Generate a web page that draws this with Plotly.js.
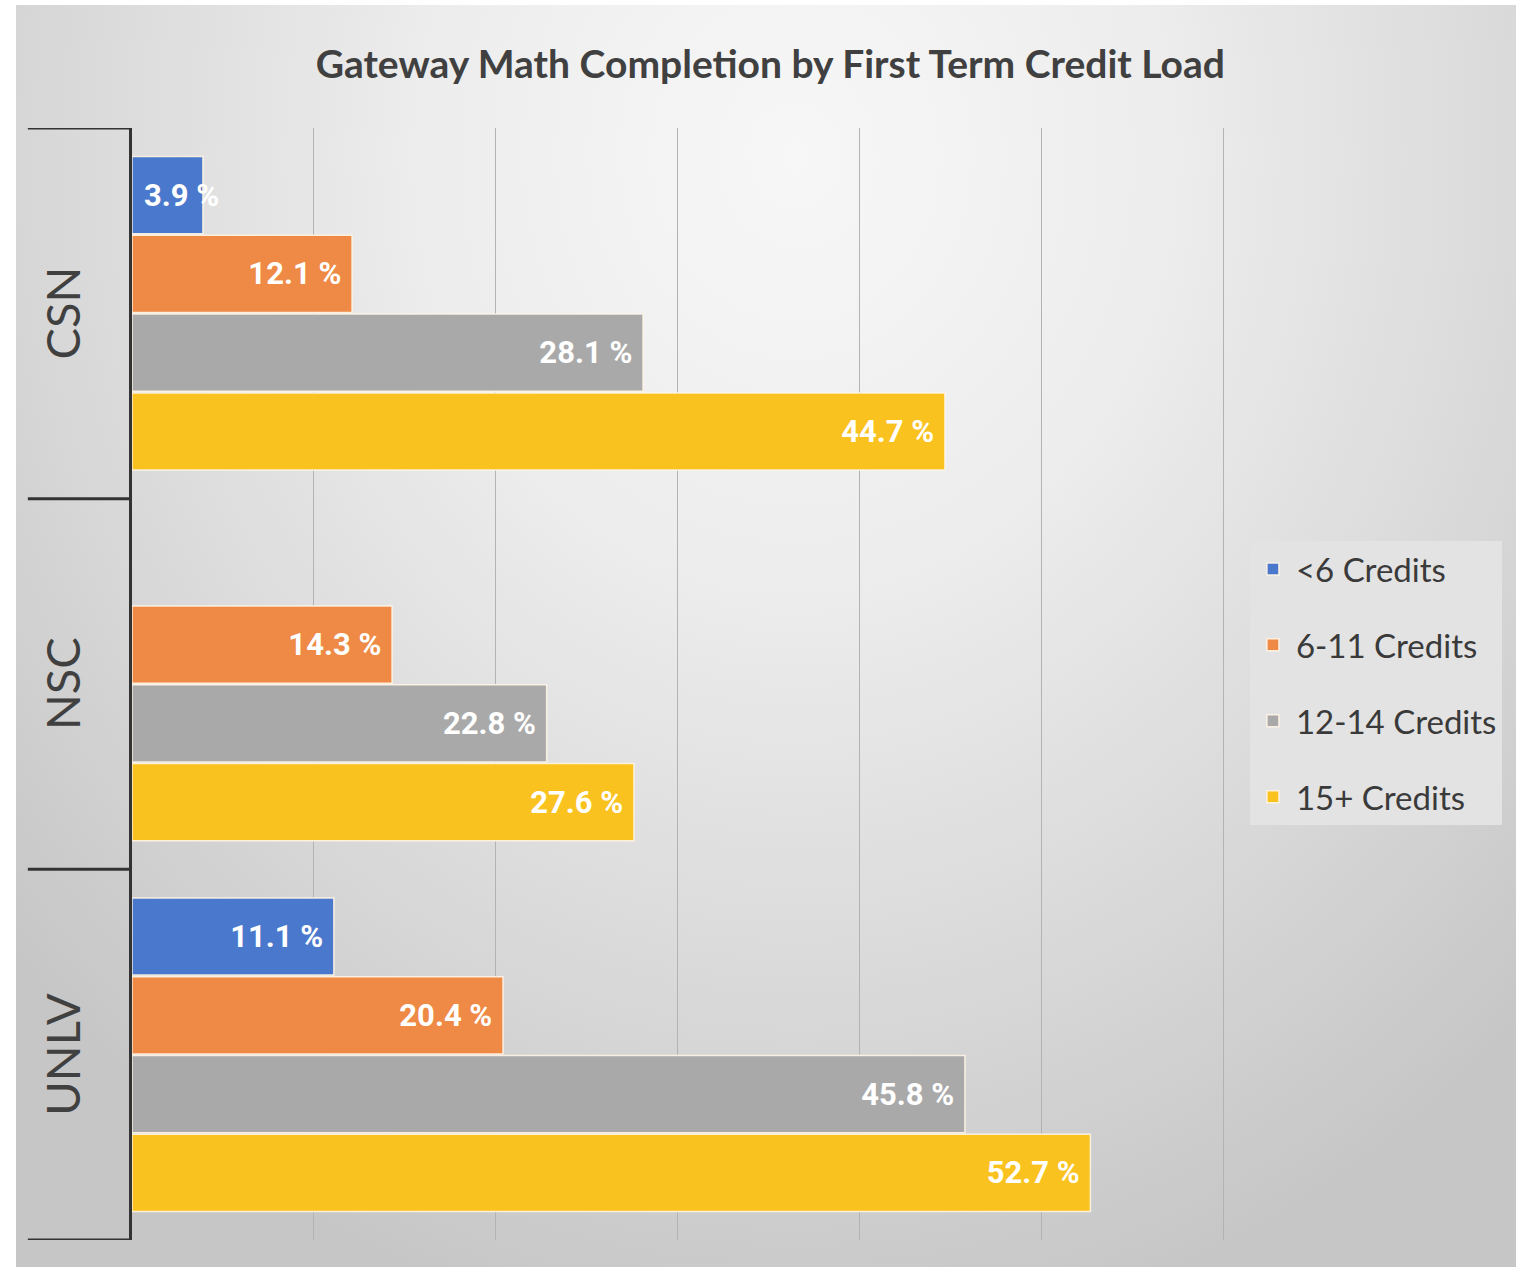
<!DOCTYPE html>
<html>
<head>
<meta charset="utf-8">
<script src="https://cdn.plot.ly/plotly-3.0.1.min.js"></script>
<style>
  html, body { margin: 0; padding: 0; background: #ffffff; }
  #frame {
    position: absolute; left: 16px; top: 5px; width: 1500px; height: 1262px;
    background: radial-gradient(ellipse 70% 95% at 52% 12%, #f7f7f7 0%, #ededed 35%, #dadada 68%, #c6c6c6 100%);
  }
  #chart { position: absolute; left: 0; top: 0; width: 1516px; height: 1271px; }
</style>
</head>
<body>
<div id="frame"></div>
<div id="chart"></div>
<script>
// ---- data ----
const categories = ["CSN", "NSC", "UNLV"];
const seriesNames = ["<6 Credits", "6-11 Credits", "12-14 Credits", "15+ Credits"];
const lt6Credits   = [3.9, null, 11.1];
const c6to11       = [12.1, 14.3, 20.4];
const c12to14      = [28.1, 22.8, 45.8];
const c15plus      = [44.7, 27.6, 52.7];
const chartTitle = "Gateway Math Completion by First Term Credit Load";

// ---- styles ----
const seriesValues = [lt6Credits, c6to11, c12to14, c15plus];
const colors = ["#4a78cc", "#ee8a45", "#a9a9a9", "#f9c21e"];
const labelFont = { family: "Roboto, Liberation Sans, sans-serif", size: 31, color: "#ffffff", weight: 700 };

const W = 1516, H = 1271;
const margin = { l: 132, r: 291, t: 128, b: 31, pad: 0 };
const xMax = 60.1;
const bargap = 0.15;
const pxPerUnit = (W - margin.l - margin.r) / xMax;
const minLabelPx = 85;   // a label narrower than this bar length does not fit inside
const fmt = v => v.toFixed(1) + " %";

const traces = seriesNames.map((name, i) => ({
  type: "bar",
  orientation: "h",
  name: name,
  legendgroup: "g" + i,
  y: categories,
  x: seriesValues[i],
  marker: { color: colors[i], line: { color: "rgba(255,245,230,0.9)", width: 1.5 } },
  texttemplate: "%{x:.1f} %\u00a0",
  textposition: seriesValues[i].map(v => (v !== null && v * pxPerUnit < minLabelPx) ? "none" : "inside"),
  insidetextanchor: "end",
  textangle: 0,
  constraintext: "none",
  textfont: labelFont,
  hoverinfo: "skip"
}));

// labels that do not fit inside their bar start at the bar base (as in the source)
const nSeries = seriesNames.length;
const slot = (1 - bargap) / nSeries;
const overflowLabels = [];
seriesValues.forEach((vals, i) => {
  vals.forEach((v, j) => {
    if (v !== null && v * pxPerUnit < minLabelPx) {
      overflowLabels.push({
        xref: "x", yref: "y", x: 0, y: j - (1 - bargap) / 2 + slot * (i + 0.5),
        text: fmt(v), showarrow: false, xanchor: "left", yanchor: "middle", xshift: 10,
        font: labelFont
      });
    }
  });
});

const catLabels = categories.map(c => ({
  xref: "paper", yref: "y", x: -0.064, y: c,
  text: c, showarrow: false, textangle: -90,
  xanchor: "center", yanchor: "middle",
  font: { family: "Lato, Open Sans, sans-serif", size: 47, color: "#404040" }
}));

// bracket lines at category boundaries
const brackets = [];
for (let k = 0; k <= categories.length; k++) {
  brackets.push({
    type: "line", xref: "paper", yref: "y",
    x0: -0.0953, x1: 0, y0: k - 0.5, y1: k - 0.5,
    line: { color: "#333333", width: 3 }
  });
}

const layout = {
  width: W, height: H,
  margin: margin,
  paper_bgcolor: "rgba(0,0,0,0)",
  plot_bgcolor: "rgba(0,0,0,0)",
  title: {
    text: chartTitle,
    x: 0.584, xref: "paper", xanchor: "center",
    y: 0.949, yref: "container", yanchor: "middle",
    font: { family: "Lato, Open Sans, sans-serif", size: 39, color: "#404040", weight: 700 }
  },
  barmode: "group",
  bargap: bargap,
  bargroupgap: 0.02,
  showlegend: true,
  legend: {
    x: 1.0228, xanchor: "left", y: 0.6286, yanchor: "top",
    bgcolor: "#e3e3e3",
    font: { family: "Lato, Open Sans, sans-serif", size: 33, color: "#3a3a3a" },
    traceorder: "grouped",
    tracegroupgap: 30,
    itemwidth: 36
  },
  xaxis: {
    range: [0, xMax], dtick: 10, tick0: 0, showgrid: true, gridcolor: "#b3b3b3", gridwidth: 1,
    showticklabels: false, zeroline: false, ticks: "", showline: false, fixedrange: true
  },
  yaxis: {
    type: "category", range: [categories.length - 0.5, -0.5],
    showline: true, linecolor: "#333333", linewidth: 3,
    ticks: "", showticklabels: false, showgrid: false, zeroline: false, fixedrange: true
  },
  shapes: brackets,
  annotations: catLabels.concat(overflowLabels)
};

Plotly.newPlot("chart", traces, layout, { displayModeBar: false, staticPlot: true });
</script>
</body>
</html>
